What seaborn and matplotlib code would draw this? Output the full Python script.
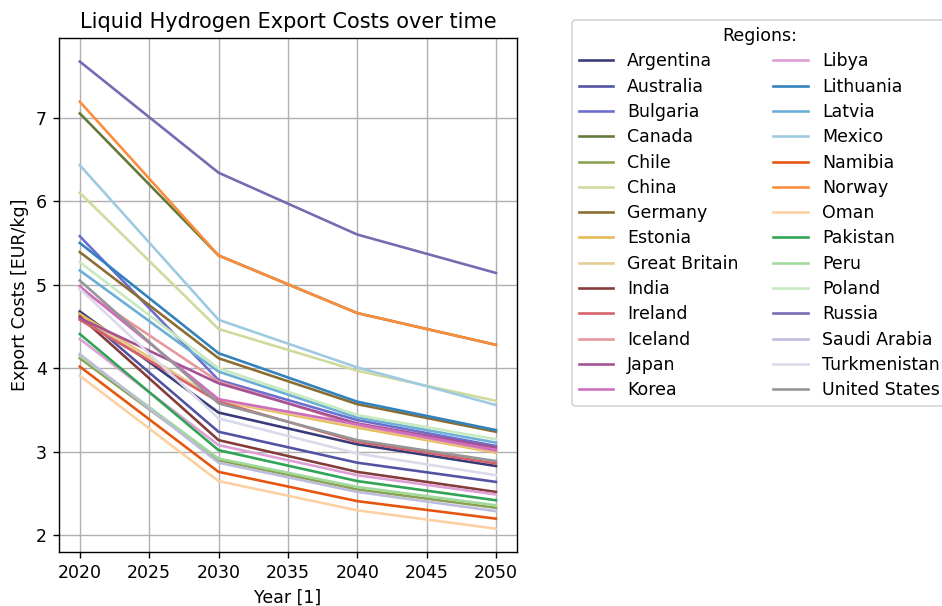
import pandas as pd
import matplotlib.pyplot as plt
import seaborn as sns

years = [2020, 2030, 2040, 2050]

argentina = [4.68, 3.47, 3.09, 2.83]
australia = [4.66, 3.24, 2.87, 2.64]
bulgaria = [5.58, 3.86, 3.38, 3.07]
canada = [7.05, 5.35, 4.66, 4.28]
chile = [4.12, 2.90, 2.55, 2.33]
china = [6.10, 4.47, 3.97, 3.61]
germany = [5.39, 4.12, 3.57, 3.24]
estonia = [4.65, 3.61, 3.29, 2.99]
great_britain = [4.62, 3.62, 3.31, 3.00]
india = [4.62, 3.14, 2.76, 2.52]
ireland = [4.58, 3.60, 3.12, 2.86]
iceland = [4.95, 3.84, 3.32, 3.01]
japan = [4.60, 3.82, 3.34, 3.05]
korea = [4.98, 3.63, 3.33, 3.02]
libya = [4.35, 3.08, 2.72, 2.49]
lithuania = [5.50, 4.18, 3.60, 3.26]
latvia = [5.17, 3.96, 3.41, 3.11]
mexico = [6.43, 4.58, 4.01, 3.56]
namibia = [4.02, 2.76, 2.41, 2.20]
norway = [7.19, 5.35, 4.66, 4.28]
oman = [3.91, 2.65, 2.30, 2.08]
pakistan = [4.41, 3.02, 2.65, 2.42]
peru = [4.15, 2.92, 2.58, 2.36]
poland = [5.27, 4.00, 3.44, 3.15]
russia = [7.67, 6.34, 5.60, 5.14]
saudi_arabia = [4.17, 2.87, 2.52, 2.29]
turkmenistan = [4.95, 3.40, 2.98, 2.72]
united_states = [5.05, 3.58, 3.14, 2.89]

regions = {
    "Argentina": argentina, "Australia": australia, "Bulgaria": bulgaria,
    "Canada": canada, "Chile": chile, "China": china, "Germany": germany,
    "Estonia": estonia, "Great Britain": great_britain, "India": india,
    "Ireland": ireland, "Iceland": iceland, "Japan": japan, "Korea": korea,
    "Libya": libya, "Lithuania": lithuania, "Latvia": latvia, "Mexico": mexico,
    "Namibia": namibia, "Norway": norway, "Oman": oman, "Pakistan": pakistan,
    "Peru": peru, "Poland": poland, "Russia": russia,
    "Saudi Arabia": saudi_arabia, "Turkmenistan": turkmenistan,
    "United States": united_states,
}

colors = ["#393b79", "#5254a3", "#6b6ecf", "#637939", "#8ca252", "#cedb9c",
          "#8c6d31", "#e7ba52", "#e7cb94", "#843c39", "#d6616b", "#e7969c",
          "#a55194", "#ce6dbd", "#de9ed6", "#3182bd", "#6baed6", "#9ecae1",
          "#e6550d", "#fd8d3c", "#fdd0a2", "#31a354", "#a1d99b", "#c7e9c0",
          "#756bb1", "#bcbddc", "#dadaeb", "#969696"]

rows = []
for name, vals in regions.items():
    for y, v in zip(years, vals):
        rows.append({"Year": y, "Cost": v, "Region": name})
df = pd.DataFrame(rows)

DPI = 125
fig = plt.figure(figsize=(942 / DPI, 606 / DPI), dpi=DPI)
ax = fig.add_axes([0.0626, 0.089, 0.486, 0.848])
sns.lineplot(data=df, x="Year", y="Cost", hue="Region", palette=colors, ax=ax)
ax.grid(True)
ax.set_title("Liquid Hydrogen Export Costs over time")
ax.set_xlabel("Year [1]")
ax.set_ylabel("Export Costs [EUR/kg]")
ax.legend(title="Regions:", ncol=2, loc="upper left", labelspacing=0.42,
          bbox_to_anchor=(1.12, 1.035), borderaxespad=0)
fig.savefig("out.png", dpi=DPI)
